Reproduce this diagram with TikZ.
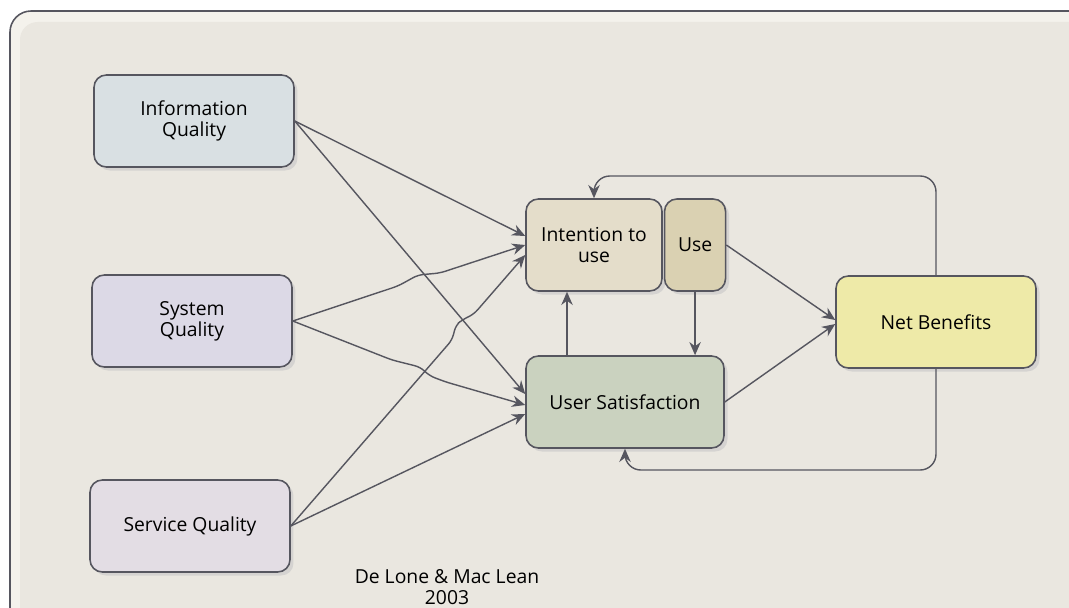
\documentclass[tikz,border=0pt]{standalone}
\usepackage{fontspec}
\setmainfont{Open Sans}
\usepackage{tikz}
\usetikzlibrary{positioning, arrows.meta, calc, shadows}
\definecolor{lineg}{HTML}{56565F}
\definecolor{bgin}{HTML}{EAE7E0}
\definecolor{bgout}{HTML}{F4F2EC}
\definecolor{infofill}{HTML}{D9E0E3}
\definecolor{sysfill}{HTML}{DCD9E6}
\definecolor{servfill}{HTML}{E3DDE4}
\definecolor{intfill}{HTML}{E4DDCA}
\definecolor{usefill}{HTML}{DAD1B2}
\definecolor{satfill}{HTML}{CAD2BF}
\definecolor{netfill}{HTML}{EEEAA8}
\tikzset{
  factor/.style={rectangle, rounded corners=7pt, minimum width=4cm, minimum height=1.84cm, align=center, draw=lineg, line width=0.9pt, drop shadow={shadow xshift=2pt, shadow yshift=-2pt, fill=black!22, opacity=0.6}},
  arrow/.style={draw=lineg, line width=0.8pt, rounded corners=3pt, -{Stealth[length=7.5pt, width=6.5pt]}},
  link/.style={draw=lineg, line width=0.8pt}
}
\begin{document}
\begin{tikzpicture}[x=0.02cm, y=-0.02cm, every node/.style={font=\fontsize{11}{12}\selectfont}]
        \useasboundingbox (0,0) rectangle (1069,608);
        % Rahmen
        \fill[bgout, draw=lineg, line width=0.9pt, rounded corners=12pt] (10,11) rectangle (1090,630);
        \fill[bgin, rounded corners=10pt] (20,22) rectangle (1090,630);

        \node (infoq) [factor, fill=infofill] at (194,121) {Information\\Quality};
        \node (sysq) [factor, fill=sysfill] at (192,321) {System\\Quality};
        \node (servq) [factor, fill=servfill] at (190,526) {Service Quality};

        \node (intent) [factor, fill=intfill, minimum width=2.72cm] at (594,245) {Intention to\\use};
        \node (use) [factor, fill=usefill, minimum width=1.22cm, right=0.02cm of intent] {Use};
        \node (usersat) [factor, fill=satfill, minimum width=3.96cm] at (625,402) {User Satisfaction};
        \node (netb) [factor, fill=netfill] at (936,322) {Net Benefits};

        \node (source) [align=center, inner sep=0pt] at (447,587) {De Lone \& Mac Lean\\2003};

        \coordinate (topturn) at (936,176);
        \coordinate (botturn) at (936,470);

        % Qualitaet -> Nutzung / Zufriedenheit
        \draw [arrow] (infoq.east) -- ($(intent.west)+(0,-9)$);
        \draw [arrow] (infoq.east) -- ($(usersat.west)+(0,-8)$);
        \draw [arrow] (sysq.east) -- (398,286) -- (418,275) -- (440,273) -- (intent.west);
        \draw [arrow] (sysq.east) -- (392,360) -- (420,367) -- (430,376) -- (446,382) -- ($(usersat.west)+(0,3)$);
        \draw [arrow] (servq.east) -- (452,340) -- (456,325) -- (462,320) -- (474,314) -- ($(intent.west)+(0,10)$);
        \draw [arrow] (servq.east) -- ($(usersat.west)+(0,12)$);

        % Use <-> User Satisfaction
        \draw [arrow] (use.south) -- (use.south |- usersat.north);
        \draw [arrow] (usersat.north -| 567,0) -- (intent.south -| 567,0);

        % -> Net Benefits
        \draw [arrow] (use.east) -- ($(netb.west)+(0,-2)$);
        \draw [arrow] (usersat.east) -- ($(netb.west)+(0,2)$);

        % Rueckkopplung
        \draw [arrow, rounded corners=9pt] (netb.north) -- (topturn) -| (intent.north);
        \draw [arrow, rounded corners=9pt] (netb.south) -- (botturn) -| (usersat.south);

    \end{tikzpicture}
\end{document}
